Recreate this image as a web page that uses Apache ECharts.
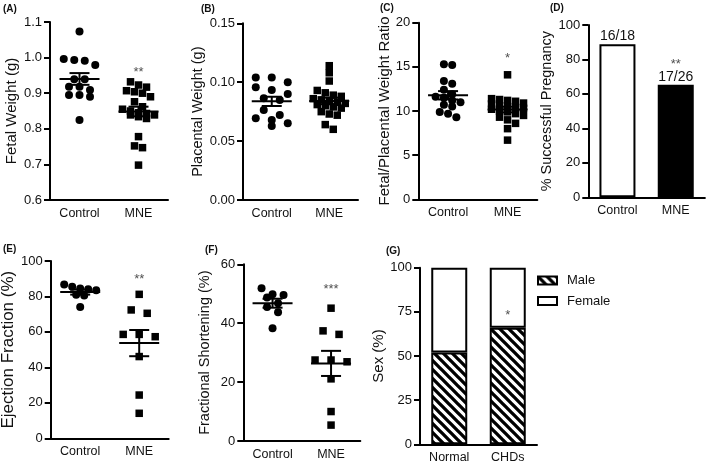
<!DOCTYPE html>
<html><head><meta charset="utf-8">
<script src="https://cdn.jsdelivr.net/npm/echarts@6/dist/echarts.min.js"></script>
<style>html,body{margin:0;padding:0;background:#fff}#c{width:709px;height:464px}</style>
</head><body><div id="c"></div>
<script>
// ---------- DATA ----------
const groups = ['Control', 'MNE'];
const fetalControl = [1.073, 0.996, 0.993, 0.991, 0.979, 0.939, 0.939, 0.918, 0.918, 0.909, 0.895, 0.895, 0.890, 0.825];
const fetalMNE = [0.932, 0.923, 0.917, 0.907, 0.904, 0.900, 0.890, 0.876, 0.862, 0.855, 0.850, 0.845, 0.843, 0.839, 0.839, 0.834, 0.829, 0.778, 0.752, 0.747, 0.698];
const placentaControl = [0.104, 0.104, 0.100, 0.0957, 0.0934, 0.090, 0.0863, 0.0849, 0.0764, 0.0722, 0.0693, 0.068, 0.0651, 0.0629];
const placentaMNE = [0.114, 0.108, 0.101, 0.093, 0.091, 0.089, 0.088, 0.086, 0.085, 0.084, 0.083, 0.082, 0.081, 0.080, 0.079, 0.078, 0.075, 0.073, 0.072, 0.064, 0.060];
const ratioControl = [15.3, 15.2, 13.4, 13.1, 12.4, 11.9, 11.6, 11.5, 11.2, 11.0, 10.7, 10.5, 9.9, 9.7, 9.3];
const ratioMNE = [14.1, 11.4, 11.3, 11.2, 11.1, 10.9, 10.8, 10.6, 10.5, 10.4, 10.3, 10.2, 10.0, 9.9, 9.7, 9.5, 9.3, 9.0, 8.6, 8.0, 6.7];
const pregnancySuccess = [16, 17];
const pregnancyTotal = [18, 26];
const efControl = [86.8, 85.5, 84.5, 84.0, 83.5, 81.0, 80.5, 74.0];
const efMNE = [81.2, 72.4, 70.5, 58.6, 58.6, 57.3, 46.1, 24.4, 14.1];
const fsControl = [51.9, 49.8, 49.6, 48.7, 46.8, 45.5, 43.7, 38.3];
const fsMNE = [45.1, 37.4, 36.2, 27.5, 27.5, 26.9, 21.1, 10.0, 5.4];
const sexGroups = ['Normal', 'CHDs'];
const sexNames = ['Male', 'Female'];
const malePct = [52, 66];
// significance marks: [text, group index, y value]
const sigFetal = ['**', 1, 0.957];
const sigRatio = ['*', 1, 16.0];
const sigPregnancy = ['**', 1, 77.1];
const sigEF = ['**', 1, 89.5];
const sigFS = ['***', 1, 51.4];
const sigSex = ['*', 1, 73.2];
const panelLetters = ['(A)', '(B)', '(C)', '(D)', '(E)', '(F)', '(G)'];

// ---------- BUILD ----------
const FONT = '"Liberation Sans", Arial, Helvetica, sans-serif';
const TXT = '#111';
const grids = [], xAxes = [], yAxes = [], series = [], titles = [];

function addPanel(p) {
  const gi = grids.length;
  grids.push({ left: p.left, top: p.top, width: p.width, height: p.height, containLabel: false, outerBoundsMode: 'none' });
  const xi = xAxes.length;
  xAxes.push({
    type: 'category', gridIndex: gi, data: p.cats, boundaryGap: true,
    axisLine: { lineStyle: { color: '#000', width: 2 } },
    axisTick: { alignWithLabel: true, length: 5, lineStyle: { color: '#000', width: 2 } },
    axisLabel: { color: TXT, fontSize: 12.5, fontFamily: FONT, margin: 7 },
    splitLine: { show: false }
  });
  xAxes.push({ type: 'value', gridIndex: gi, min: 0.5, max: 2.5, show: false });
  const yi = yAxes.length;
  yAxes.push({
    type: 'value', gridIndex: gi, min: p.min, max: p.max, interval: p.interval,
    name: p.name, nameLocation: 'middle', nameGap: p.nameGap,
    nameTextStyle: { color: TXT, fontSize: p.nameSize, fontFamily: FONT },
    axisLine: { show: true, lineStyle: { color: '#000', width: 2 } },
    axisTick: { show: true, length: 6, lineStyle: { color: '#000', width: 2 } },
    axisLabel: { color: TXT, fontSize: 13, fontFamily: FONT, margin: 8, formatter: v => v.toFixed(p.dec) },
    splitLine: { show: false }
  });
  return { gi, xCat: xi, xVal: xi + 1, yi, p };
}

function swarm(vals, center, ax, spacing, rowH, maxN) {
  const pxY = ax.p.height / (ax.p.max - ax.p.min);
  const uX = 2 / ax.p.width;
  const sorted = vals.slice().sort((a, b) => b - a);
  const rows = []; let cur = [];
  sorted.forEach(v => {
    if (cur.length && ((cur[0] - v) * pxY >= rowH || cur.length >= maxN)) { rows.push(cur); cur = []; }
    cur.push(v);
  });
  if (cur.length) rows.push(cur);
  const pts = [];
  rows.forEach(r => r.forEach((v, i) => pts.push([center + (i - (r.length - 1) / 2) * spacing * uX, v])));
  return pts;
}
function meanSem(a) {
  const m = a.reduce((s, v) => s + v, 0) / a.length;
  const sd = Math.sqrt(a.reduce((s, v) => s + (v - m) * (v - m), 0) / (a.length - 1));
  return [m, sd / Math.sqrt(a.length)];
}
function addScatter(ax, ctrl, mne, opt) {
  series.push({ type: 'scatter', xAxisIndex: ax.xVal, yAxisIndex: ax.yi, symbol: 'circle', symbolSize: 8,
    itemStyle: { color: '#000', opacity: 1 }, silent: true, z: 2,
    data: swarm(ctrl, 1, ax, opt.sc, opt.rh, opt.nc) });
  series.push({ type: 'scatter', xAxisIndex: ax.xVal, yAxisIndex: ax.yi, symbol: 'rect', symbolSize: 7.5,
    itemStyle: { color: '#000', opacity: 1 }, silent: true, z: 2,
    data: swarm(mne, 2, ax, opt.sm, opt.rh, opt.nm) });
  const a = meanSem(ctrl), b = meanSem(mne);
  series.push({ type: 'custom', xAxisIndex: ax.xVal, yAxisIndex: ax.yi, silent: true, z: 5,
    data: [[1, a[0], a[1]], [2, b[0], b[1]]],
    renderItem: (params, api) => {
      const x = api.value(0), m = api.value(1), s = api.value(2);
      const pm = api.coord([x, m]), pt = api.coord([x, m + s]), pb = api.coord([x, m - s]);
      const st = { stroke: '#000', lineWidth: 2, fill: null };
      return { type: 'group', children: [
        { type: 'line', shape: { x1: pm[0] - 20, y1: pm[1], x2: pm[0] + 20, y2: pm[1] }, style: st },
        { type: 'line', shape: { x1: pt[0], y1: pt[1], x2: pb[0], y2: pb[1] }, style: st },
        { type: 'line', shape: { x1: pt[0] - 10, y1: pt[1], x2: pt[0] + 10, y2: pt[1] }, style: st },
        { type: 'line', shape: { x1: pb[0] - 10, y1: pb[1], x2: pb[0] + 10, y2: pb[1] }, style: st }
      ] };
    } });
}
function addSig(ax, sig) {
  series.push({ type: 'scatter', xAxisIndex: ax.xVal, yAxisIndex: ax.yi, symbolSize: 1, silent: true, z: 6,
    itemStyle: { color: 'rgba(0,0,0,0)' },
    label: { show: true, position: 'inside', formatter: sig[0], color: '#222', fontSize: 13, fontFamily: FONT },
    data: [[sig[1] + 1, sig[2]]] });
}

// Panel A
const pA = addPanel({ left: 50, top: 22, width: 118, height: 178, cats: groups, min: 0.6, max: 1.1, interval: 0.1, dec: 1,
  name: 'Fetal Weight (g)', nameSize: 15, nameGap: 31 });
addScatter(pA, fetalControl, fetalMNE, { sc: 10.5, sm: 8, rh: 7, nc: 5, nm: 5 });
addSig(pA, sigFetal);
// Panel B
const pB = addPanel({ left: 243, top: 23.3, width: 115, height: 176.7, cats: groups, min: 0, max: 0.15, interval: 0.05, dec: 2,
  name: 'Placental Weight (g)', nameSize: 14.5, nameGap: 35.5 });
addScatter(pB, placentaControl, placentaMNE, { sc: 16, sm: 8, rh: 7, nc: 3, nm: 5 });
// Panel C
const pC = addPanel({ left: 418.3, top: 22.7, width: 119, height: 176.6, cats: groups, min: 0, max: 20, interval: 5, dec: 0,
  name: 'Fetal/Placental Weight Ratio', nameSize: 15, nameGap: 24 });
addScatter(pC, ratioControl, ratioMNE, { sc: 8.3, sm: 8, rh: 7, nc: 5, nm: 5 });
addSig(pC, sigRatio);
// Panel D
const pD = addPanel({ left: 588.3, top: 25, width: 116.6, height: 172.3, cats: groups, min: 0, max: 100, interval: 20, dec: 0,
  name: '% Successful Pregnancy', nameSize: 14.5, nameGap: 24.5 });
series.push({ type: 'bar', xAxisIndex: pD.xCat, yAxisIndex: pD.yi, barWidth: 36, silent: true,
  itemStyle: { borderColor: '#000', borderWidth: 2 },
  label: { show: true, position: 'top', distance: 1, color: TXT, fontSize: 14, fontFamily: FONT,
    formatter: p => pregnancySuccess[p.dataIndex] + '/' + pregnancyTotal[p.dataIndex] },
  data: pregnancySuccess.map((s, i) => ({ value: 100 * s / pregnancyTotal[i], itemStyle: { color: i === 0 ? '#fff' : '#000' } })) });
addSig(pD, sigPregnancy);
// Panel E
const pE = addPanel({ left: 50.7, top: 261, width: 118, height: 177.3, cats: groups, min: 0, max: 100, interval: 20, dec: 0,
  name: 'Ejection Fraction (%)', nameSize: 17, nameGap: 31.5 });
addScatter(pE, efControl, efMNE, { sc: 8, sm: 16, rh: 7, nc: 5, nm: 5 });
addSig(pE, sigEF);
// Panel F
const pF = addPanel({ left: 243.3, top: 264.3, width: 117, height: 176.7, cats: groups, min: 0, max: 60, interval: 20, dec: 0,
  name: 'Fractional Shortening (%)', nameSize: 14.5, nameGap: 31 });
addScatter(pF, fsControl, fsMNE, { sc: 11, sm: 16, rh: 8, nc: 5, nm: 5 });
addSig(pF, sigFS);
// Panel G
const pG = addPanel({ left: 420, top: 267.7, width: 117, height: 176.6, cats: sexGroups, min: 0, max: 100, interval: 25, dec: 0,
  name: 'Sex (%)', nameSize: 15, nameGap: 31 });
function hatch() {
  const s = 9, c = document.createElement('canvas'); c.width = s; c.height = s;
  const g = c.getContext('2d'); g.fillStyle = '#fff'; g.fillRect(0, 0, s, s);
  g.strokeStyle = '#000'; g.lineWidth = 3.3; g.beginPath();
  for (let k = -1; k <= 1; k++) { g.moveTo(-s, -s + k * s); g.lineTo(2 * s, 2 * s + k * s); }
  g.stroke(); return c;
}
const hatchPattern = { image: hatch(), repeat: 'repeat' };
series.push({ name: sexNames[0], type: 'bar', stack: 'sex', xAxisIndex: pG.xCat, yAxisIndex: pG.yi, barWidth: 36, silent: true,
  itemStyle: { color: hatchPattern, borderColor: '#000', borderWidth: 2 }, data: malePct });
series.push({ name: sexNames[1], type: 'bar', stack: 'sex', xAxisIndex: pG.xCat, yAxisIndex: pG.yi, barWidth: 36, silent: true,
  itemStyle: { color: '#fff', borderColor: '#000', borderWidth: 2 }, data: malePct.map(v => 100 - v) });
addSig(pG, sigSex);

const letterPos = [[3, 4], [201, 4], [380, 3], [550, 3], [3, 244], [205, 245], [386, 246]];
panelLetters.forEach((t, i) => titles.push({ text: t, left: letterPos[i][0], top: letterPos[i][1], padding: 0,
  textStyle: { fontSize: 10, fontWeight: 'bold', color: TXT, fontFamily: FONT } }));

const chart = echarts.init(document.getElementById('c'), null, { renderer: 'canvas' });
chart.setOption({
  animation: false, backgroundColor: '#fff',
  title: titles, grid: grids, xAxis: xAxes, yAxis: yAxes, series: series,
  legend: { data: sexNames, orient: 'vertical', left: 537, top: 274, padding: 0, itemWidth: 19, itemHeight: 8, itemGap: 7.5, icon: 'rect',
    selectedMode: false, itemStyle: { borderColor: '#000', borderWidth: 2 },
    textStyle: { fontSize: 13, color: TXT, fontFamily: FONT, padding: [0, 0, 0, 5] } }
});
</script></body></html>
